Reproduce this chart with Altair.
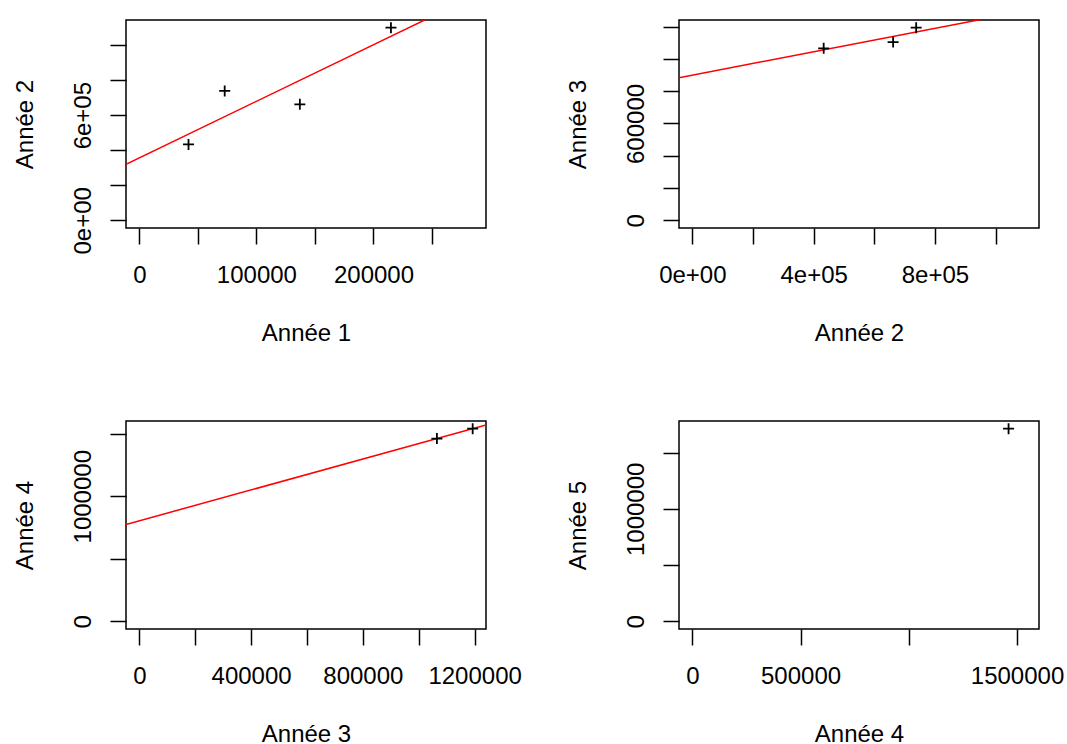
import altair as alt
import pandas as pd

# ---- data: cumulative amounts by development year (run-off triangle) ----
YEARS = ["Année 1", "Année 2", "Année 3", "Année 4", "Année 5"]
A1 = [42000, 72900, 137100, 214900, 284700]
A2 = [433000, 738000, 662000, 1099000, None]
A3 = [1065000, 1193000, 1104000, None, None]
A4 = [1461000, 1540000, None, None, None]
A5 = [1712000, None, None, None, None]
COLUMNS = [A1, A2, A3, A4, A5]

X_TICKS = [
    [0, 50000, 100000, 150000, 200000, 250000],
    [0, 200000, 400000, 600000, 800000, 1000000],
    [0, 200000, 400000, 600000, 800000, 1000000, 1200000],
    [0, 500000, 1000000, 1500000],
]
X_LABELS = [
    {0: "0", 100000: "100000", 200000: "200000"},
    {0: "0e+00", 400000: "4e+05", 800000: "8e+05"},
    {0: "0", 400000: "400000", 800000: "800000", 1200000: "1200000"},
    {0: "0", 500000: "500000", 1500000: "1500000"},
]
Y_TICKS = [
    [0, 200000, 400000, 600000, 800000, 1000000],
    [0, 200000, 400000, 600000, 800000, 1000000, 1200000],
    [0, 500000, 1000000, 1500000],
    [0, 500000, 1000000, 1500000],
]
Y_LABELS = [
    {0: "0e+00", 600000: "6e+05"},
    {0: "0", 600000: "600000"},
    {0: "0", 1000000: "1000000"},
    {0: "0", 1000000: "1000000"},
]

W, H = 360, 208
FONT = "Liberation Sans"
FS = 24
CROSS = "M-1,0L1,0M0,-1L0,1"


def label_expr(d):
    expr = "''"
    for v, t in reversed(list(d.items())):
        expr = f"datum.value == {v} ? '{t}' : ({expr})"
    return expr


def r_domain(col):
    m = max(v for v in col if v is not None)
    return [-0.04 * m, 1.04 * m]


def panel(i):
    xs, ys = COLUMNS[i], COLUMNS[i + 1]
    pairs = [(x, y) for x, y in zip(xs, ys) if x is not None and y is not None]
    df = pd.DataFrame(pairs, columns=["x", "y"])
    xdom, ydom = r_domain(xs), r_domain(ys)

    xenc = alt.X(
        "x:Q",
        scale=alt.Scale(domain=xdom, nice=False, zero=False),
        title=YEARS[i],
        axis=alt.Axis(
            values=X_TICKS[i], labelExpr=label_expr(X_LABELS[i]),
            grid=False, domain=False, tickSize=16, tickWidth=1.5, tickColor="black",
            labelPadding=38, labelBaseline="alphabetic", labelAlign="center",
            labelOverlap=False, labelFlush=False,
            titleX=W / 2, titleY=112, titleBaseline="alphabetic", titleAlign="center",
        ),
    )
    yenc = alt.Y(
        "y:Q",
        scale=alt.Scale(domain=ydom, nice=False, zero=False),
        title=YEARS[i + 1],
        axis=alt.Axis(
            values=Y_TICKS[i], labelExpr=label_expr(Y_LABELS[i]),
            grid=False, domain=False, tickSize=16, tickWidth=1.5, tickColor="black",
            labelPadding=20, labelAngle=270, labelBaseline="alphabetic", labelAlign="center",
            labelOverlap=False, labelFlush=False,
            titleX=-94, titleY=H / 2, titleAngle=270, titleBaseline="alphabetic", titleAlign="center",
        ),
    )

    base = alt.Chart(df)
    pts = base.mark_point(
        shape=CROSS, filled=False, color="black", strokeWidth=1.8, size=121, opacity=1
    ).encode(x=xenc, y=yenc)
    layers = [pts]
    if len(df) >= 2:
        line = base.transform_regression("x", "y", extent=xdom).mark_line(
            color="#ff0000", strokeWidth=1.5, clip=True
        ).encode(x=xenc, y=yenc)
        layers = [line, pts]
    return alt.layer(*layers).properties(width=W, height=H)


chart = alt.concat(
    *[panel(i) for i in range(4)], columns=2, spacing=193, bounds="flush"
).properties(
    padding={"left": 12, "top": 17, "right": 0, "bottom": 0},
    background="white",
).configure_view(
    stroke="black", strokeWidth=1.5
).configure_axis(
    labelFont=FONT, labelFontSize=FS, labelColor="black",
    titleFont=FONT, titleFontSize=FS, titleColor="black", titleFontWeight="normal",
)

chart.save("out.html", embed_options={"renderer": "svg", "actions": False})
